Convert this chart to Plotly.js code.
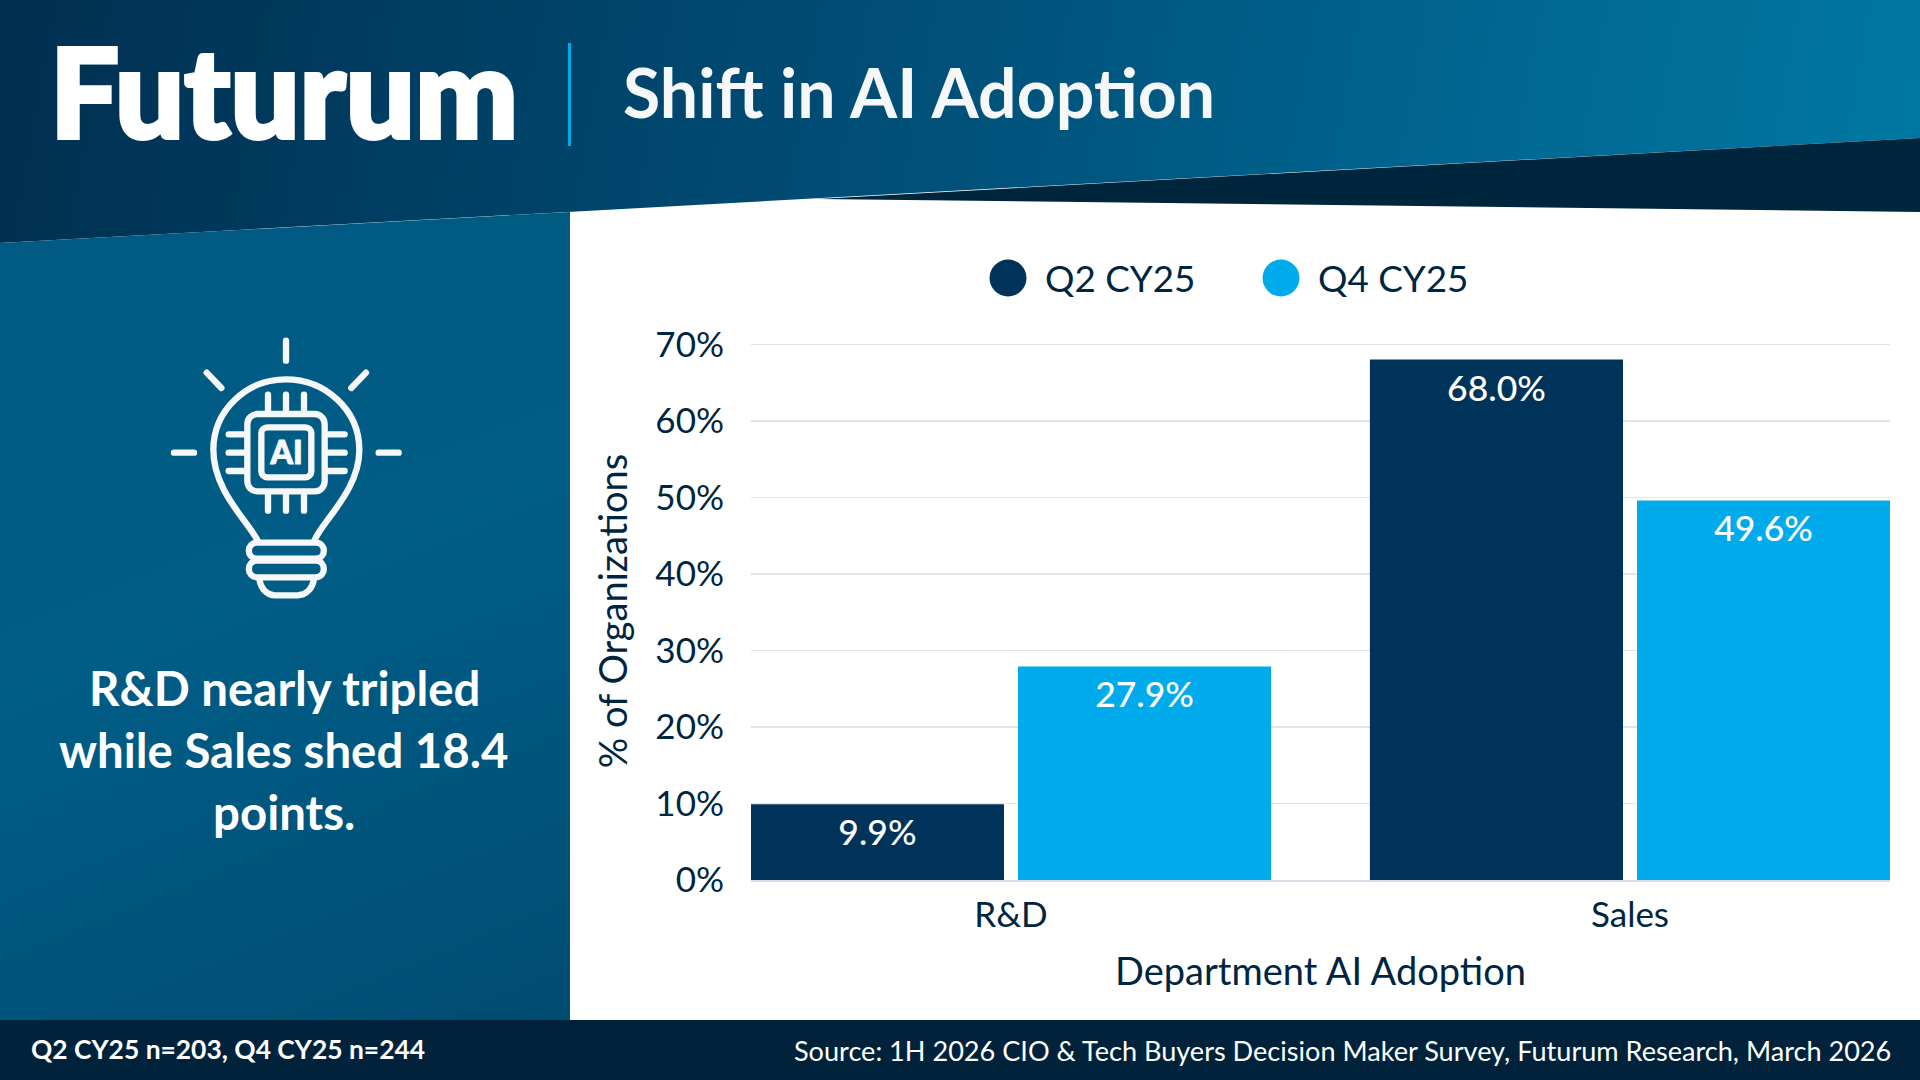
<!DOCTYPE html>
<html>
<head>
<meta charset="utf-8">
<script src="https://cdn.plot.ly/plotly-3.0.1.min.js"></script>
<style>
html,body{margin:0;padding:0;width:1920px;height:1080px;overflow:hidden;background:#fff;}
.bg{position:absolute;left:0;top:0;width:1920px;height:1080px;}
#header{background:linear-gradient(100deg,#002f50 0%,#004c74 40%,#006a95 75%,#007ea9 100%);clip-path:polygon(0 0,1920px 0,1920px 138px,0 243px);}
#panel{background:linear-gradient(158deg,#005880 0%,#005d86 38%,#004c72 68%,#002a45 100%);clip-path:polygon(0 243px,570px 212px,570px 1020px,0 1020px);}
#wedge{background:#00263d;clip-path:polygon(817px 199px,1920px 138px,1920px 212px);}
#white{background:#fff;clip-path:polygon(570px 212px,817px 199px,1920px 212px,1920px 1020px,570px 1020px);}
#footer{background:#00233b;clip-path:polygon(0 1020px,1920px 1020px,1920px 1080px,0 1080px);}
#sep{position:absolute;left:568px;top:43px;width:3px;height:103px;background:#00abeb;}
#logo{position:absolute;left:0;top:0;}
#icon{position:absolute;left:150px;top:320px;}
#chart{position:absolute;left:0;top:0;width:1920px;height:1080px;}
</style>
</head>
<body>
<div class="bg" id="white"></div>
<div class="bg" id="header"></div>
<div class="bg" id="panel"></div>
<div class="bg" id="wedge"></div>
<div class="bg" id="footer"></div>
<div id="sep"></div>
<svg id="logo" width="600" height="200">
  <text x="50" y="137.5" textLength="468" lengthAdjust="spacingAndGlyphs" font-family="Lato" font-weight="900" font-size="124" fill="#ffffff" stroke="#ffffff" stroke-width="4">Futurum</text>
</svg>
<svg id="icon" width="280" height="290" viewBox="0 0 840 870" fill="none" stroke="#f5f7f8" stroke-width="19" stroke-linecap="round" stroke-linejoin="round">
  <path d="M408 62V122M170 158L214 204M648 158L604 204M72 398H132M686 398H746"/>
  <path d="M322 660C290 600 190 510 190 390C190 270 290 178 408 178C526 178 628 270 628 390C628 510 520 600 494 660"/>
  <path d="M322 668H496C530 668 530 716 496 716H322C288 716 288 668 322 668Z"/>
  <path d="M322 722H496C530 722 530 772 496 772H322C288 772 288 722 322 722Z"/>
  <path d="M328 776C332 810 355 826 375 826H443C463 826 488 810 492 776"/>
  <rect x="292" y="282" width="232" height="232" rx="30"/>
  <rect x="334" y="322" width="150" height="150" rx="18"/>
  <path d="M354 224V276M408 224V276M462 224V276M354 522V572M408 522V572M462 522V572M236 343H286M236 398H286M236 453H286M532 343H584M532 398H584M532 453H584"/>
  <text x="410" y="433" text-anchor="middle" font-family="Lato" font-weight="900" font-size="96" fill="#f5f7f8" stroke="#f5f7f8" stroke-width="3">AI</text>
</svg>
<div id="chart"></div>
<script>
// ---- data ----
var categories = ["R&D", "Sales"];
var seriesNames = ["Q2 CY25", "Q4 CY25"];
var q2Values = [9.9, 68.0];
var q4Values = [27.9, 49.6];
var yTickValues = [0, 10, 20, 30, 40, 50, 60, 70];
var yTickLabels = ["0%", "10%", "20%", "30%", "40%", "50%", "60%", "70%"];
var seriesColors = ["#00335a", "#00abeb"];

var chartTitle = "Shift in AI Adoption";
var xAxisTitle = "Department AI Adoption";
var yAxisTitle = "% of Organizations";
var calloutLines = ["R&D nearly tripled", "while Sales shed 18.4", "points."];
var footLeft = "Q2 CY25 n=203, Q4 CY25 n=244";
var footRight = "Source: 1H 2026 CIO & Tech Buyers Decision Maker Survey, Futurum Research, March 2026";

// ---- layout constants ----
var FONT = "Lato, 'Open Sans', sans-serif";
var INK = "#00263f";
var M = {l: 751, r: 30, t: 342, b: 200};
var PW = 1920 - M.l - M.r, PH = 1080 - M.t - M.b;
function px(x){ return (x - M.l) / PW; }
function py(y){ return (1080 - M.b - y) / PH; }

function barTrace(name, values, color){
  return {
    type: "bar", name: name, x: categories, y: values,
    marker: {color: color, line: {width: 0}},
    text: values.map(function(v){ return v.toFixed(1) + "%"; }),
    textposition: "inside", insidetextanchor: "end", textangle: 0,
    constraintext: "none",
    insidetextfont: {family: FONT, size: 35.5, color: "#ffffff", weight: 500},
    hoverinfo: "skip", cliponaxis: false
  };
}
var traces = [barTrace(seriesNames[0], q2Values, seriesColors[0]),
              barTrace(seriesNames[1], q4Values, seriesColors[1])];

function note(text, x, y, size, color, anchor, weight){
  return {text: text, xref: "paper", yref: "paper", x: px(x), y: py(y),
          xanchor: anchor || "left", yanchor: "middle", showarrow: false,
          font: {family: FONT, size: size, color: color, weight: weight || 400}};
}
var annotations = [
  note(seriesNames[0], 1043, 278, 36.8, INK),
  note(seriesNames[1], 1316, 278, 36.8, INK),
  note(footLeft, 29, 1049, 26.4, "#ffffff", "left", 700),
  note(footRight, 1893, 1050, 27.1, "#ffffff", "right", 400)
];
calloutLines.forEach(function(t, i){
  annotations.push(note(t, 284, 687 + i * 62, 47.4, "#ffffff", "center", 700));
});
function dot(cx, cy, r, color){
  return {type: "circle", xref: "paper", yref: "paper", layer: "above",
          x0: px(cx - r), x1: px(cx + r), y0: py(cy - r), y1: py(cy + r),
          fillcolor: color, line: {width: 0}};
}
var layout = {
  width: 1920, height: 1080, margin: M, autosize: false,
  paper_bgcolor: "rgba(0,0,0,0)", plot_bgcolor: "rgba(0,0,0,0)",
  font: {family: FONT, color: INK},
  title: {text: chartTitle, xref: "container", yref: "container", x: 623/1920, y: 1 - 94/1080,
          xanchor: "left", yanchor: "middle", automargin: false,
          font: {family: FONT, size: 68, color: "#f6f7f8", weight: 700}},
  showlegend: false,
  barmode: "group", bargap: 0.137, bargroupgap: 0.0524,
  xaxis: {type: "category", range: [-0.42, 1.42], fixedrange: true, automargin: false,
          showgrid: false, showline: true, linecolor: "#d5dee6", linewidth: 1.5, ticks: "",
          ticklabelstandoff: 3,
          tickfont: {family: FONT, size: 35, color: INK},
          title: {text: xAxisTitle, standoff: 26, font: {family: FONT, size: 38, color: INK}}},
  yaxis: {range: [0, 70.3], fixedrange: true, automargin: false, tickmode: "array",
          tickvals: yTickValues, ticktext: yTickLabels,
          showgrid: true, gridcolor: "#dde5ec", gridwidth: 1.5, zeroline: false,
          ticks: "", ticklabelstandoff: 26, ticklabelshift: 2.5,
          tickfont: {family: FONT, size: 35, color: INK},
          title: {text: yAxisTitle, standoff: 16, font: {family: FONT, size: 38, color: INK}}},
  annotations: annotations,
  shapes: [dot(1008, 278, 18.5, seriesColors[0]), dot(1281, 278, 18.5, seriesColors[1])]
};
Plotly.newPlot("chart", traces, layout, {displayModeBar: false, staticPlot: true}).then(function(){
  // nudge the value labels down to the reference's inset from the bar top
  document.querySelectorAll("#chart .bartext").forEach(function(t){
    t.setAttribute("transform", "translate(0,3) " + (t.getAttribute("transform") || ""));
  });
});
</script>
</body>
</html>
